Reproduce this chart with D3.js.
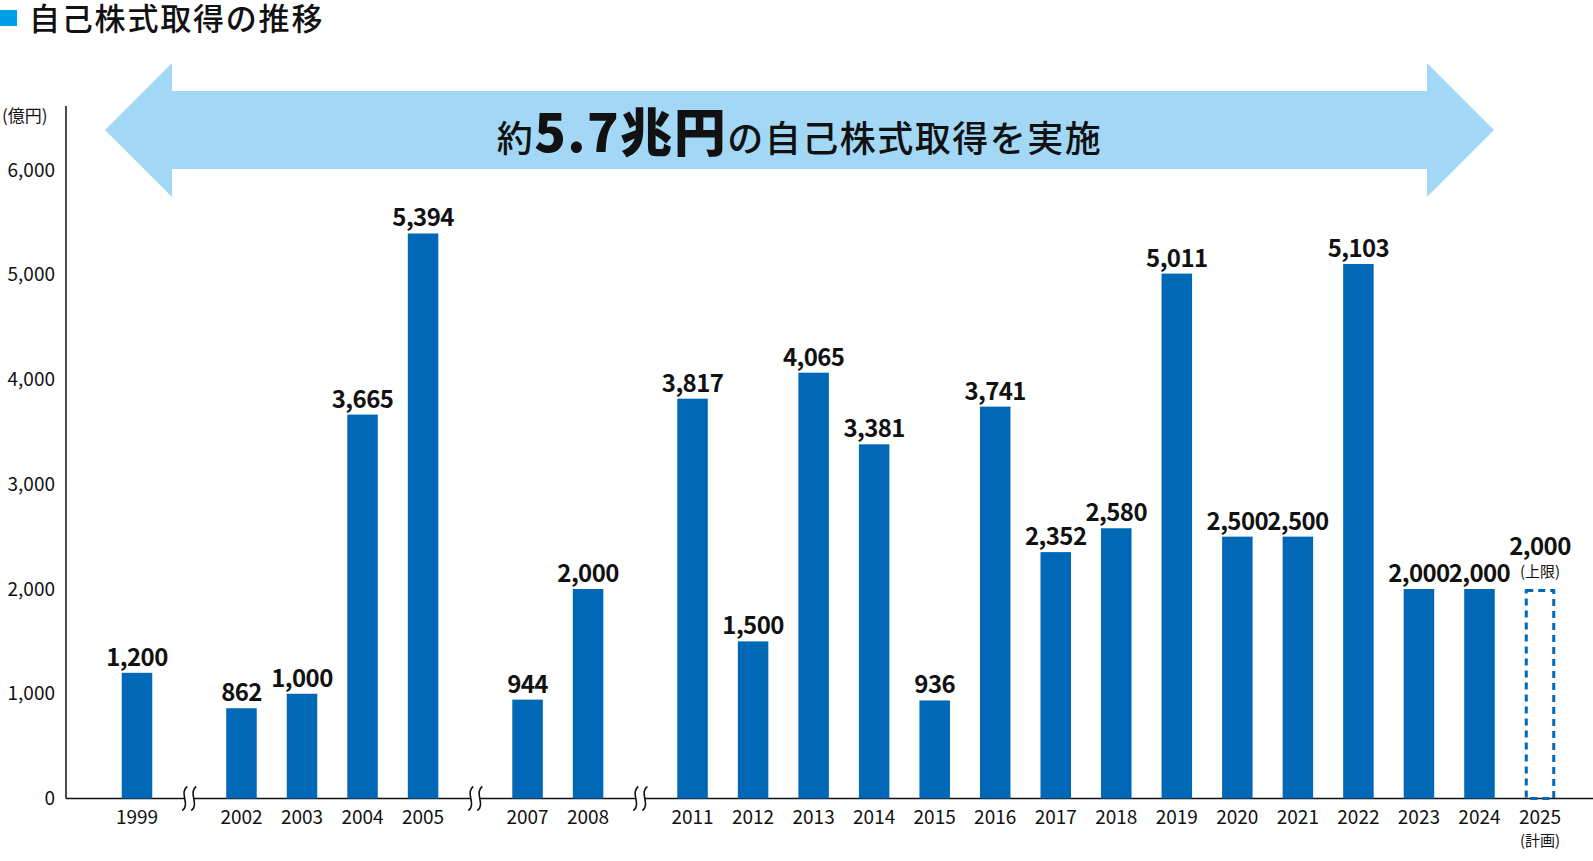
<!DOCTYPE html>
<html><head><meta charset="utf-8">
<script src="https://cdn.jsdelivr.net/npm/d3@7"></script>
<style>
html,body{margin:0;padding:0;background:#fff;}
svg{display:block;font-family:"Noto Sans CJK JP","Noto Sans",sans-serif;}
</style></head>
<body><svg id="c" width="1593" height="861"></svg>
<script>
const years = ["1999","2002","2003","2004","2005","2007","2008","2011","2012","2013","2014","2015","2016","2017","2018","2019","2020","2021","2022","2023","2024","2025"];
const values = [1200,862,1000,3665,5394,944,2000,3817,1500,4065,3381,936,3741,2352,2580,5011,2500,2500,5103,2000,2000,2000];
const planned = ["2025"];
const breakAfter = ["1999","2005","2008"];
const yTicks = [0,1000,2000,3000,4000,5000,6000];
const title = "自己株式取得の推移";
const unitLabel = "(億円)";

const svg = d3.select("#c");
const blue = "#0068b7";
const gapUnits = 1.726;

// positions
let pos = [], p = 0;
years.forEach((y,i)=>{ if(i>0){ p += breakAfter.includes(years[i-1]) ? gapUnits : 1; } pos.push(p); });
const x = d3.scaleLinear().domain([0, d3.max(pos)]).range([137, 1540]);
const y = d3.scaleLinear().domain([0, 6000]).range([798.5, 170]);
const bw = 30.5;
const axisX = 66;

// title
svg.append("rect").attr("x",0).attr("y",10).attr("width",17).attr("height",16).attr("fill","#00a0e9");
svg.append("text").attr("x",29).attr("y",30).attr("font-size",31).attr("font-weight",500).attr("letter-spacing",1.8).attr("fill","#111").text(title);

// arrow
const ay = 130, sh = 39, hh = 67, lt = 105, rt = 1494, hl = 67;
svg.append("polygon").attr("fill","#a2d8f5").attr("points",[
  [lt,ay],[lt+hl,ay-hh],[lt+hl,ay-sh],[rt-hl,ay-sh],[rt-hl,ay-hh],[rt,ay],[rt-hl,ay+hh],[rt-hl,ay+sh],[lt+hl,ay+sh],[lt+hl,ay+hh]
].map(d=>d.join(",")).join(" "));
const bt = svg.append("text").attr("x",(lt+rt)/2).attr("y",152).attr("text-anchor","middle").attr("fill","#111").attr("letter-spacing",1.5);
bt.append("tspan").attr("font-size",36).attr("font-weight",500).text("約");
bt.append("tspan").attr("font-size",52).attr("font-weight",900).text("5.7兆円");
bt.append("tspan").attr("font-size",36).attr("font-weight",500).text("の自己株式取得を実施");

// y axis
const ya = svg.append("g").attr("transform",`translate(${axisX},0)`)
  .call(d3.axisLeft(y).tickValues(yTicks).tickSize(0).tickPadding(11).tickFormat(d3.format(",")));
ya.select(".domain").remove();
ya.selectAll("text").attr("font-size",19).attr("fill","#111").attr("font-family","'Noto Sans CJK JP',sans-serif");
svg.append("line").attr("x1",axisX).attr("x2",axisX).attr("y1",106).attr("y2",y(0)).attr("stroke","#111").attr("stroke-width",1.5);
svg.append("text").attr("x",2).attr("y",122).attr("font-size",17).attr("fill","#111").text(unitLabel);

// x axis line with breaks
const breakXs = breakAfter.map(b=>{ const i = years.indexOf(b); return (x(pos[i])+x(pos[i+1]))/2; });
const half = 4.5;
let segs = [], start = axisX;
breakXs.forEach(bx=>{ segs.push([start,bx-half]); start = bx+half; });
segs.push([start,1593]);
segs.forEach(s=>svg.append("line").attr("x1",s[0]).attr("x2",s[1]).attr("y1",y(0)).attr("y2",y(0)).attr("stroke","#111").attr("stroke-width",1.5));
breakXs.forEach(bx=>{
  [-half,half].forEach(o=>{
    const cx = bx+o, cy = y(0);
    svg.append("path").attr("fill","none").attr("stroke","#111").attr("stroke-width",1.6)
      .attr("d",`M${cx+2.5},${cy-12} C${cx-6},${cy-6} ${cx+6},${cy+6} ${cx-2.5},${cy+12}`);
  });
});

// bars
const data = years.map((yr,i)=>({year:yr, value:values[i], px:x(pos[i]), plan:planned.includes(yr)}));
svg.selectAll("rect.bar").data(data.filter(d=>!d.plan)).join("rect").attr("class","bar")
  .attr("x",d=>d.px-bw/2).attr("width",bw).attr("y",d=>y(d.value)).attr("height",d=>y(0)-y(d.value)).attr("fill",blue);
svg.selectAll("rect.plan").data(data.filter(d=>d.plan)).join("rect").attr("class","plan")
  .attr("x",d=>d.px-bw/2+1.5).attr("width",bw-3).attr("y",d=>y(d.value)+1.5).attr("height",d=>y(0)-y(d.value)-1.5)
  .attr("fill","none").attr("stroke",blue).attr("stroke-width",3).attr("stroke-dasharray","7,5");

// value labels
svg.selectAll("text.val").data(data).join("text").attr("class","val")
  .attr("x",d=>d.px).attr("y",d=>d.plan ? y(d.value)-34 : y(d.value)-7)
  .attr("text-anchor","middle").attr("font-size",24).attr("font-weight","bold").attr("letter-spacing",-0.6).attr("fill","#111")
  .text(d=>d3.format(",")(d.value));
data.filter(d=>d.plan).forEach(d=>{
  svg.append("text").attr("x",d.px).attr("y",y(d.value)-12).attr("text-anchor","middle").attr("font-size",15).attr("fill","#111").text("(上限)");
});

// x labels
svg.selectAll("text.xl").data(data).join("text").attr("class","xl")
  .attr("x",d=>d.px).attr("y",824).attr("text-anchor","middle").attr("font-size",19).attr("fill","#111").text(d=>d.year);
data.filter(d=>d.plan).forEach(d=>{
  svg.append("text").attr("x",d.px).attr("y",846).attr("text-anchor","middle").attr("font-size",15).attr("fill","#111").text("(計画)");
});
</script></body></html>
